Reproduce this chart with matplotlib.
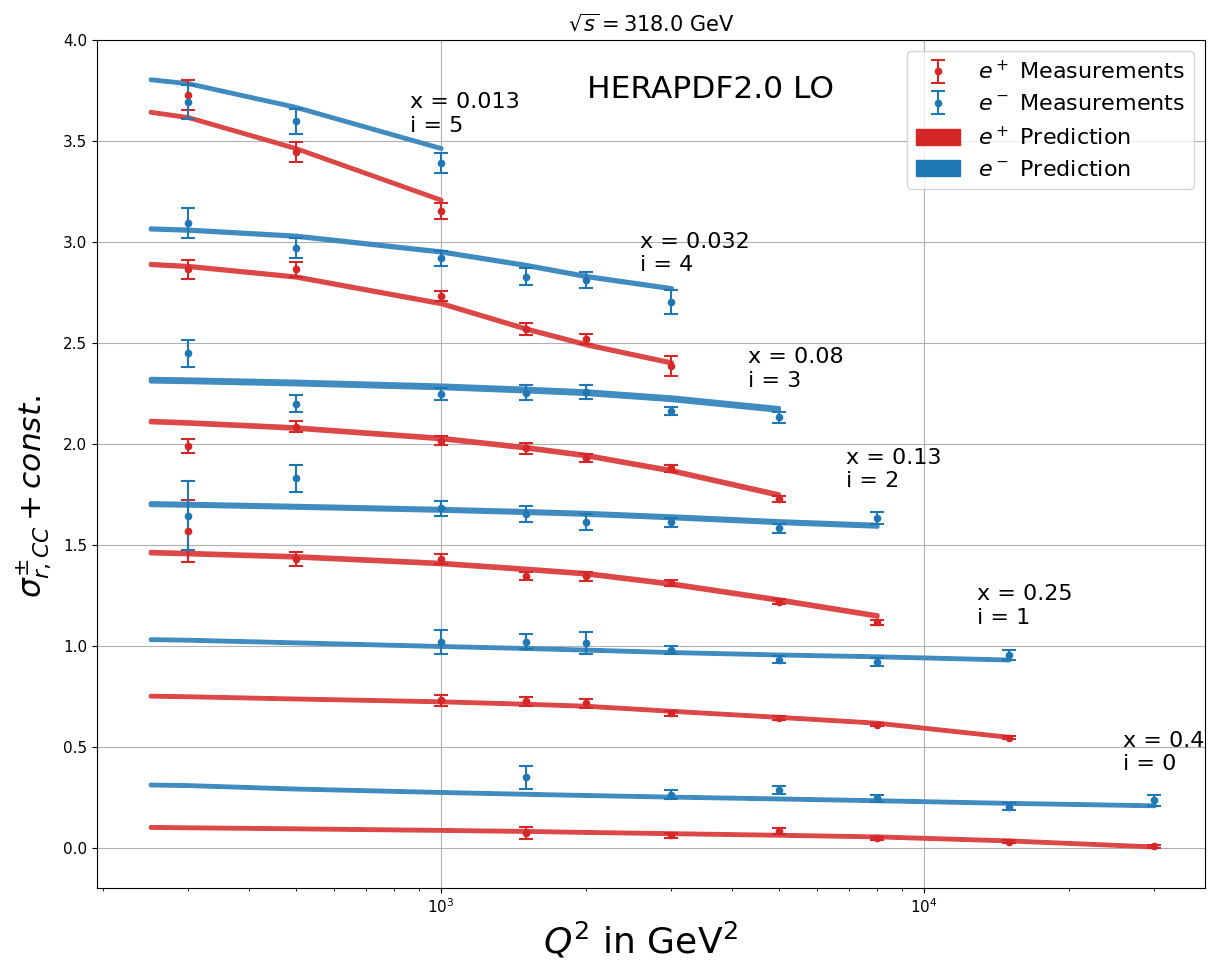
import numpy as np
import matplotlib
matplotlib.use("Agg")
import matplotlib.pyplot as plt
from matplotlib.patches import Patch

# ---------------- data ----------------
bins = [0, 1, 2, 3, 4, 5]
x_values = ["0.4", "0.25", "0.13", "0.08", "0.032", "0.013"]

pred_q_grid = [250, 300, 500, 1000, 1500, 2000, 3000, 5000, 8000, 15000, 30000]

# predictions (offset included)
pred_ep = {
    5: [3.644, 3.617, 3.464, 3.208],
    4: [2.890, 2.880, 2.828, 2.696, 2.570, 2.492, 2.402],
    3: [2.112, 2.105, 2.080, 2.028, 1.982, 1.943, 1.868, 1.748],
    2: [1.463, 1.458, 1.442, 1.409, 1.380, 1.358, 1.307, 1.228, 1.149],
    1: [0.752, 0.749, 0.738, 0.724, 0.712, 0.702, 0.677, 0.647, 0.618, 0.548],
    0: [0.102, 0.100, 0.095, 0.087, 0.082, 0.077, 0.071, 0.063, 0.055, 0.035, 0.005],
}
pred_em = {
    5: [3.805, 3.785, 3.668, 3.464],
    4: [3.066, 3.060, 3.030, 2.952, 2.885, 2.830, 2.770],
    3: [2.317, 2.314, 2.303, 2.284, 2.268, 2.255, 2.225, 2.172],
    2: [1.703, 1.700, 1.690, 1.675, 1.664, 1.655, 1.638, 1.614, 1.596],
    1: [1.032, 1.029, 1.016, 0.998, 0.988, 0.980, 0.968, 0.956, 0.947, 0.931],
    0: [0.312, 0.309, 0.292, 0.275, 0.266, 0.260, 0.252, 0.243, 0.234, 0.221, 0.209],
}
# half-width of prediction bands
unc_ep = {5: 0.002, 4: 0.003, 3: 0.004, 2: 0.004, 1: 0.002, 0: 0.002}
unc_em = {5: 0.002, 4: 0.003, 3: 0.007, 2: 0.005, 1: 0.002, 0: 0.002}

# measurements
meas_q = {
    5: [300, 500, 1000],
    4: [300, 500, 1000, 1500, 2000, 3000],
    3: [300, 500, 1000, 1500, 2000, 3000, 5000],
    2: [300, 500, 1000, 1500, 2000, 3000, 5000, 8000],
    1: [1000, 1500, 2000, 3000, 5000, 8000, 15000],
    0: [1500, 3000, 5000, 8000, 15000, 30000],
}
meas_ep = {
    5: [3.728, 3.446, 3.153],
    4: [2.863, 2.864, 2.731, 2.569, 2.518, 2.386],
    3: [1.987, 2.083, 2.015, 1.977, 1.929, 1.878, 1.726],
    2: [1.568, 1.429, 1.429, 1.343, 1.343, 1.310, 1.218, 1.115],
    1: [0.729, 0.724, 0.714, 0.664, 0.641, 0.609, 0.543],
    0: [0.071, 0.061, 0.081, 0.046, 0.028, 0.007],
}
err_ep = {
    5: [0.073, 0.050, 0.041],
    4: [0.047, 0.036, 0.026, 0.031, 0.026, 0.050],
    3: [0.035, 0.027, 0.021, 0.026, 0.022, 0.016, 0.014],
    2: [0.155, 0.035, 0.025, 0.020, 0.023, 0.013, 0.011, 0.011],
    1: [0.028, 0.022, 0.021, 0.012, 0.009, 0.008, 0.008],
    0: [0.030, 0.012, 0.014, 0.008, 0.007, 0.007],
}
meas_em = {
    5: [3.691, 3.596, 3.391],
    4: [3.093, 2.970, 2.919, 2.828, 2.812, 2.701],
    3: [2.447, 2.199, 2.244, 2.252, 2.254, 2.160, 2.130],
    2: [1.644, 1.828, 1.680, 1.653, 1.612, 1.610, 1.581, 1.632],
    1: [1.018, 1.018, 1.013, 0.980, 0.931, 0.918, 0.952],
    0: [0.348, 0.262, 0.284, 0.244, 0.203, 0.233],
}
err_em = {
    5: [0.084, 0.064, 0.051],
    4: [0.073, 0.050, 0.037, 0.040, 0.040, 0.061],
    3: [0.069, 0.040, 0.030, 0.037, 0.035, 0.020, 0.026],
    2: [0.170, 0.068, 0.037, 0.039, 0.038, 0.023, 0.022, 0.028],
    1: [0.058, 0.037, 0.054, 0.020, 0.019, 0.020, 0.025],
    0: [0.058, 0.021, 0.020, 0.018, 0.016, 0.025],
}
# annotation positions (Q2, y of last-line baseline)
label_q = {5: 863, 4: 2585, 3: 4320, 2: 6900, 1: 12900, 0: 25800}
label_y = {5: 3.546, 4: 2.856, 3: 2.283, 2: 1.784, 1: 1.109, 0: 0.382}

# ---------------- style ----------------
RED = "#d62728"
BLUE = "#1f77b4"
RED_L = "#dc4748"
BLUE_L = "#408bbf"

fig = plt.figure(figsize=(12.13, 9.63), dpi=100)
ax = fig.add_axes([0.080, 0.078, 0.9134, 0.8806])
ax.set_xscale("log")

for i in bins:
    for pred, unc, col in ((pred_ep, unc_ep, RED_L), (pred_em, unc_em, BLUE_L)):
        v = np.array(pred[i])
        q = np.array(pred_q_grid[:len(v)])
        ax.fill_between(q, v - unc[i], v + unc[i], facecolor=col,
                        edgecolor=col, lw=2.9, zorder=2, joinstyle="round")

for i in bins:
    ax.errorbar(meas_q[i], meas_ep[i], yerr=err_ep[i], fmt="o", ms=4.5,
                color=RED, capsize=5, elinewidth=1.5, capthick=1.5, zorder=3)
    ax.errorbar(meas_q[i], meas_em[i], yerr=err_em[i], fmt="o", ms=4.5,
                color=BLUE, capsize=5, elinewidth=1.5, capthick=1.5, zorder=3)

for i, xv in zip(bins, x_values):
    ax.text(label_q[i], label_y[i], f"x = {xv}\ni = {i}", fontsize=16,
            ha="left", va="baseline", zorder=4)

ax.set_yticks([0.0, 0.5, 1.0, 1.5, 2.0, 2.5, 3.0, 3.5, 4.0])
ax.grid(True, which="major")
ax.tick_params(axis="both", which="major", labelsize=11)

ax.set_xlabel(r"$Q^2$ in GeV$^2$", fontsize=26)
ax.xaxis.set_label_coords(0.49, -0.038)
ax.set_ylabel(r"$\sigma^{\pm}_{r,CC} + const.$", fontsize=22.5)
ax.yaxis.set_label_coords(-0.040, 0.462)
ax.set_title(r"$\sqrt{s} = 318.0$ GeV", fontsize=15)

ax.text(0.554, 0.941, "HERAPDF2.0 LO", transform=ax.transAxes, fontsize=22.5,
        ha="center", va="center")

h1 = ax.errorbar([300], [5.0], yerr=[0.05], fmt="o", ms=4.5, color=RED,
                 capsize=5, elinewidth=1.5, capthick=1.5)
h2 = ax.errorbar([300], [5.0], yerr=[0.05], fmt="o", ms=4.5, color=BLUE,
                 capsize=5, elinewidth=1.5, capthick=1.5)
h3 = Patch(color=RED)
h4 = Patch(color=BLUE)
ax.legend([h1, h2, h3, h4],
          [r"$e^+$ Measurements", r"$e^-$ Measurements",
           r"$e^+$ Prediction", r"$e^-$ Prediction"],
          loc="upper right", fontsize=16)
ax.set_xlim(194, 38200)
ax.set_ylim(-0.2, 4.0)

fig.savefig("out.png", dpi=100)
